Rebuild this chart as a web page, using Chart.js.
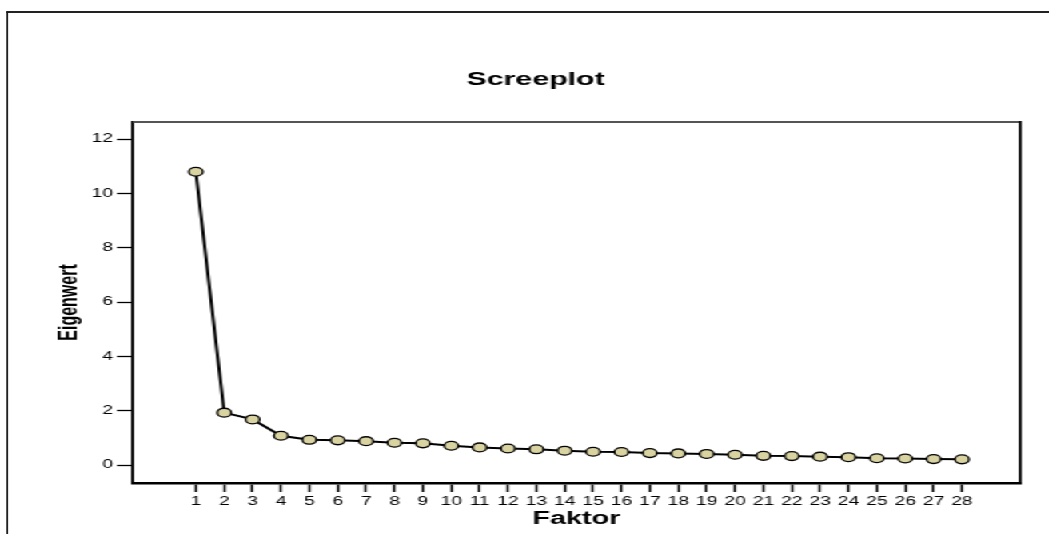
<!DOCTYPE html>
<html>
<head>
<meta charset="utf-8">
<script src="https://cdn.jsdelivr.net/npm/chart.js@4/dist/chart.umd.min.js"></script>
<style>
  body { margin: 0; background: #fff; overflow: hidden; }
  /* the original picture is a horizontally stretched export, so the whole chart is stretched too */
  #wrap {
    position: absolute; left: 0; top: 0;
    width: 656px; height: 534px;
    transform: scaleX(1.599); transform-origin: 0 0;
  }
  #frame {
    position: absolute; left: 4px; top: 11px;
    width: 800px; height: 600px;
    border-left: 1.6px solid #111; border-top: 2px solid #222;
  }
  #screeChart { position: absolute; left: 0; top: 0; }
</style>
</head>
<body>
<div id="wrap">
  <div id="frame"></div>
  <canvas id="screeChart" width="656" height="534"></canvas>
</div>
<script>
// Screeplot data
const factors = [1, 2, 3, 4, 5, 6, 7, 8, 9, 10, 11, 12, 13, 14, 15, 16, 17, 18, 19, 20, 21, 22, 23, 24, 25, 26, 27, 28];
const eigenvalues = [10.80, 1.93, 1.68, 1.08, 0.93, 0.91, 0.88, 0.82, 0.80, 0.71, 0.65, 0.61, 0.58,
    0.53, 0.49, 0.48, 0.44, 0.43, 0.41, 0.38, 0.34, 0.33, 0.31, 0.29, 0.25, 0.24, 0.22, 0.21];
const yTicks = [0, 2, 4, 6, 8, 10, 12];

const fontFamily = "Arial, 'Liberation Sans', sans-serif";

// draws the top and right edges of the plot box
const boxPlugin = {
    id: "boxPlugin",
    afterDraw: function (chart) {
        const ctx = chart.ctx;
        const a = chart.chartArea;
        ctx.save();
        ctx.strokeStyle = "#555";
        ctx.lineWidth = 2;
        ctx.beginPath();
        ctx.moveTo(a.left, a.top);
        ctx.lineTo(a.right, a.top);
        ctx.stroke();
        ctx.strokeStyle = "#000";
        ctx.lineWidth = 1.8;
        ctx.beginPath();
        ctx.moveTo(a.right, a.top - 1);
        ctx.lineTo(a.right, a.bottom + 1);
        ctx.stroke();
        ctx.restore();
    }
};

const ctx = document.getElementById("screeChart").getContext("2d");
new Chart(ctx, {
    type: "line",
    data: {
        datasets: [{
            label: "Eigenwert",
            data: factors.map((f, i) => ({ x: f, y: eigenvalues[i] })),
            borderColor: "#000",
            borderWidth: 2,
            pointRadius: 4.4,
            pointBorderWidth: 1.3,
            pointBackgroundColor: "#d9d3a1",
            pointBorderColor: "#000",
            tension: 0,
            fill: false
        }]
    },
    options: {
        responsive: false,
        animation: false,
        devicePixelRatio: 1,
        layout: { padding: { left: 32, right: 18, top: 0, bottom: 0 } },
        plugins: {
            legend: { display: false },
            tooltip: { enabled: false },
            title: {
                display: true,
                text: "Screeplot",
                color: "#000",
                font: { family: fontFamily, size: 19, weight: "bold" },
                padding: { top: 68, bottom: 31.2 }
            }
        },
        scales: {
            x: {
                type: "linear",
                min: -1.22,
                max: 30.05,
                afterBuildTicks: function (scale) {
                    scale.ticks = factors.map(v => ({ value: v }));
                },
                afterFit: function (scale) {
                    scale.height = 51;
                },
                grid: {
                    drawOnChartArea: false,
                    drawTicks: true,
                    tickLength: 9,
                    tickColor: "#000",
                    tickWidth: 1.5
                },
                border: { display: true, color: "#000", width: 2.6 },
                ticks: {
                    color: "#000",
                    font: { family: fontFamily, size: 12 },
                    padding: 2.5,
                    maxRotation: 0,
                    autoSkip: false
                },
                title: {
                    display: true,
                    text: "Faktor",
                    color: "#000",
                    font: { family: fontFamily, size: 18, weight: "bold" },
                    padding: { top: 0, bottom: 4.3 }
                }
            },
            y: {
                min: -0.66,
                max: 12.63,
                afterBuildTicks: function (scale) {
                    scale.ticks = yTicks.map(v => ({ value: v }));
                },
                afterFit: function (scale) {
                    scale.width = 51.1;
                },
                grid: {
                    drawOnChartArea: false,
                    drawTicks: true,
                    tickLength: 10,
                    tickColor: "#000",
                    tickWidth: 1.3
                },
                border: { display: true, color: "#000", width: 1.8 },
                ticks: {
                    color: "#000",
                    font: { family: fontFamily, size: 12 },
                    padding: 2.5
                },
                title: {
                    display: true,
                    text: "Eigenwert",
                    color: "#000",
                    font: { family: fontFamily, size: 16, weight: "bold" },
                    padding: { top: 1.6, bottom: 0 }
                }
            }
        }
    },
    plugins: [boxPlugin]
});
</script>
</body>
</html>
